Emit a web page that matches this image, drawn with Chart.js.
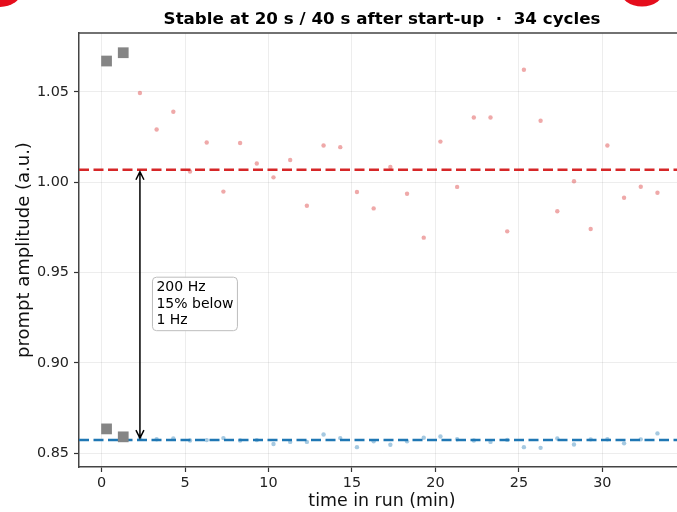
<!DOCTYPE html>
<html>
<head>
<meta charset="utf-8">
<script src="https://cdn.jsdelivr.net/npm/chart.js@4.4.1/dist/chart.umd.min.js"></script>
<style>
  html, body { margin: 0; padding: 0; background: #fff; overflow: hidden; }
  #wrap { width: 700px; height: 512px; }
</style>
</head>
<body>
<div id="wrap"><canvas id="amp-chart" width="700" height="512"></canvas></div>
<script>
// cycle start (min) and prompt amplitude of each cycle
var cycleTimes = [0.3, 1.3, 2.3, 3.3, 4.3, 5.3, 6.3, 7.3, 8.3, 9.3, 10.3, 11.3,
  12.3, 13.3, 14.3, 15.3, 16.3, 17.3, 18.3, 19.3, 20.3, 21.3, 22.3, 23.3,
  24.3, 25.3, 26.3, 27.3, 28.3, 29.3, 30.3, 31.3, 32.3, 33.3];
var amp1Hz = [1.0671, 1.0717, 1.0494, 1.0292, 1.0390, 1.0059, 1.0220, 0.9948,
  1.0217, 1.0104, 1.0027, 1.0123, 0.9870, 1.0203, 1.0194, 0.9946, 0.9855,
  1.0084, 0.9936, 0.9693, 1.0225, 0.9974, 1.0358, 1.0358, 0.9728, 1.0623,
  1.0340, 0.9839, 1.0005, 0.9741, 1.0203, 0.9914, 0.9975, 0.9942];
var amp200Hz = [0.8634, 0.8590, 0.8581, 0.8577, 0.8581, 0.8570, 0.8572, 0.8583,
  0.8570, 0.8572, 0.8550, 0.8562, 0.8562, 0.8603, 0.8583, 0.8533, 0.8566,
  0.8546, 0.8566, 0.8585, 0.8592, 0.8577, 0.8570, 0.8562, 0.8573, 0.8533,
  0.8529, 0.8581, 0.8548, 0.8576, 0.8577, 0.8554, 0.8576, 0.8609];
var startupCycles = 2;
var stableLevels = [1.0069, 0.8572]; // 1 Hz, 200 Hz
var xTicks = [0, 5, 10, 15, 20, 25, 30];
var yTicks = [0.85, 0.90, 0.95, 1.00, 1.05];
var xRange = [-1.35, 34.95];
var yRange = [0.8423, 1.0826];
var noteLines = ["200 Hz", "15% below", "1 Hz"];
var arrowAt = 2.3;
var notePos = [3.05, 0.9326];

var FONT = "'DejaVu Sans', sans-serif";

function points(vals, from, to) {
  var out = [];
  for (var i = from; i < to; i++) out.push({ x: cycleTimes[i], y: vals[i] });
  return out;
}
function level(v) {
  return [{ x: xRange[0], y: v }, { x: xRange[1], y: v }];
}

// arrow, note box, spines and the red corner marks
var annotate = {
  id: "annotate",
  afterDatasetsDraw: function(chart) {
    var ctx = chart.ctx;
    var xs = chart.scales.x, ys = chart.scales.y;
    var ax = xs.getPixelForValue(arrowAt);
    var yLow = ys.getPixelForValue(stableLevels[1]) - 2;
    var yHigh = ys.getPixelForValue(stableLevels[0]) + 2;
    ctx.save();
    ctx.strokeStyle = "#000";
    ctx.lineWidth = 1.5;
    ctx.beginPath();
    ctx.moveTo(ax, yLow);
    ctx.lineTo(ax, yHigh);
    ctx.moveTo(ax - 4, yHigh + 8);
    ctx.lineTo(ax, yHigh);
    ctx.lineTo(ax + 4, yHigh + 8);
    ctx.moveTo(ax - 4, yLow - 8);
    ctx.lineTo(ax, yLow);
    ctx.lineTo(ax + 4, yLow - 8);
    ctx.stroke();

    ctx.font = "14px " + FONT;
    var w = 0;
    noteLines.forEach(function(t) { w = Math.max(w, ctx.measureText(t).width); });
    var lh = 16.5;
    var bx = xs.getPixelForValue(notePos[0]);
    var cy = ys.getPixelForValue(notePos[1]);
    var bw = w + 8, bh = lh * noteLines.length + 4;
    var by = cy - bh / 2;
    ctx.beginPath();
    ctx.roundRect(bx, by, bw, bh, 4);
    ctx.fillStyle = "rgba(255,255,255,0.9)";
    ctx.fill();
    ctx.strokeStyle = "#bdbdbd";
    ctx.lineWidth = 1;
    ctx.stroke();
    ctx.fillStyle = "#000";
    ctx.textBaseline = "middle";
    noteLines.forEach(function(t, i) {
      ctx.fillText(t, bx + 4, by + 2 + lh * (i + 0.5));
    });
    ctx.restore();
  },
  afterDraw: function(chart) {
    var ctx = chart.ctx, a = chart.chartArea;
    ctx.save();
    ctx.strokeStyle = "#444";
    ctx.lineWidth = 1.5;
    ctx.beginPath();
    ctx.moveTo(a.left, a.top);
    ctx.lineTo(a.right, a.top);
    ctx.lineTo(a.right, a.bottom);
    ctx.stroke();
    ctx.fillStyle = "#e50d1c";
    ctx.beginPath();
    ctx.ellipse(0, -8, 21, 15, 0, 0, Math.PI * 2);
    ctx.fill();
    ctx.beginPath();
    ctx.ellipse(642, -10, 22, 16.5, 0, 0, Math.PI * 2);
    ctx.fill();
    ctx.restore();
  }
};

new Chart(document.getElementById("amp-chart"), {
  type: "scatter",
  data: {
    datasets: [
      {
        label: "start-up",
        data: points(amp1Hz, 0, startupCycles).concat(points(amp200Hz, 0, startupCycles)),
        pointStyle: "rect",
        pointRadius: 7.6,
        backgroundColor: "#858585",
        borderWidth: 0,
        order: 0
      },
      {
        label: "1 Hz level",
        type: "line",
        data: level(stableLevels[0]),
        borderColor: "#d62728",
        borderWidth: 2.5,
        borderDash: [10, 4.5],
        pointRadius: 0,
        order: 1
      },
      {
        label: "200 Hz level",
        type: "line",
        data: level(stableLevels[1]),
        borderColor: "#1f77b4",
        borderWidth: 2.5,
        borderDash: [10, 4.5],
        pointRadius: 0,
        order: 1
      },
      {
        label: "1 Hz",
        data: points(amp1Hz, startupCycles, cycleTimes.length),
        pointRadius: 2.2,
        backgroundColor: "rgba(214,39,40,0.4)",
        borderWidth: 0,
        order: 2
      },
      {
        label: "200 Hz",
        data: points(amp200Hz, startupCycles, cycleTimes.length),
        pointRadius: 2.2,
        backgroundColor: "rgba(31,119,180,0.4)",
        borderWidth: 0,
        order: 2
      }
    ]
  },
  options: {
    responsive: false,
    animation: false,
    layout: { padding: { left: 0, right: 15, top: 0, bottom: 0 } },
    plugins: {
      legend: { display: false },
      tooltip: { enabled: false },
      title: {
        display: true,
        fullSize: false,
        text: "Stable at 20 s / 40 s after start-up  \u00b7  34 cycles",
        color: "#000",
        font: { family: FONT, size: 16.7, weight: "bold" },
        padding: { top: 9.5, bottom: 3.5 }
      }
    },
    scales: {
      x: {
        type: "linear",
        min: xRange[0],
        max: xRange[1],
        afterBuildTicks: function(axis) {
          axis.ticks = xTicks.map(function(v) { return { value: v }; });
        },
        afterFit: function(axis) { axis.height = 45; },
        ticks: {
          color: "#222",
          font: { family: FONT, size: 14.4 },
          padding: 3,
          maxRotation: 0,
          callback: function(v) { return String(v); }
        },
        grid: { color: "rgba(0,0,0,0.07)", tickColor: "#333", tickLength: 5, tickWidth: 1.2 },
        border: { color: "#444", width: 1.5 },
        title: {
          display: true,
          text: "time in run (min)",
          color: "#111",
          font: { family: FONT, size: 17.4 },
          padding: { top: 0, bottom: 0 }
        }
      },
      y: {
        min: yRange[0],
        max: yRange[1],
        afterBuildTicks: function(axis) {
          axis.ticks = yTicks.map(function(v) { return { value: v }; });
        },
        afterFit: function(axis) { axis.width = 79; },
        ticks: {
          color: "#222",
          font: { family: FONT, size: 14.4 },
          padding: 5,
          callback: function(v) { return v.toFixed(2); }
        },
        grid: { color: "rgba(0,0,0,0.07)", tickColor: "#333", tickLength: 5, tickWidth: 1.2 },
        border: { color: "#444", width: 1.5 },
        title: {
          display: true,
          text: "prompt amplitude (a.u.)",
          color: "#111",
          font: { family: FONT, size: 18 },
          padding: { top: 14, bottom: 0 }
        }
      }
    }
  },
  plugins: [annotate]
});
</script>
</body>
</html>
